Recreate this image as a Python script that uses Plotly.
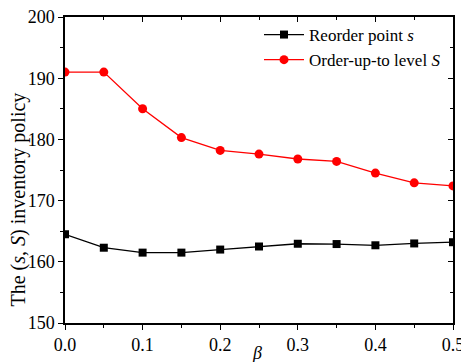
import plotly.graph_objects as go

beta = [0.0, 0.05, 0.1, 0.15, 0.2, 0.25, 0.3, 0.35, 0.4, 0.45, 0.5]
reorder_s = [164.5, 162.3, 161.5, 161.5, 162.0, 162.5, 162.95, 162.9, 162.7, 163.0, 163.2]
order_up_S = [191.0, 191.0, 185.0, 180.3, 178.2, 177.6, 176.8, 176.4, 174.5, 172.9, 172.4]
x_ticks = [0.0, 0.1, 0.2, 0.3, 0.4, 0.5]
x_ticklabels = ["0.0", "0.1", "0.2", "0.3", "0.4", "0.5"]
y_ticks = [150, 160, 170, 180, 190, 200]

FONT = "Liberation Serif, Times New Roman, serif"

fig = go.Figure()
fig.add_trace(go.Scatter(
    x=beta, y=reorder_s, mode="lines+markers", name="Reorder point <i>s</i>",
    line=dict(color="black", width=1.3),
    marker=dict(symbol="square", size=8, color="black"),
))
fig.add_trace(go.Scatter(
    x=beta, y=order_up_S, mode="lines+markers", name="Order-up-to level <i>S</i>",
    line=dict(color="#ff0000", width=1.3),
    marker=dict(symbol="circle", size=9, color="#ff0000"),
))
# dummy trace for mirrored (inside) axes
fig.add_trace(go.Scatter(x=[None], y=[None], xaxis="x2", yaxis="y2",
                         showlegend=False, hoverinfo="skip"))

axis_common = dict(showline=True, linecolor="black", linewidth=1.5,
                   showgrid=False, zeroline=False, tickcolor="black",
                   tickwidth=1.2, automargin=False)

fig.update_layout(
    width=461, height=362,
    margin=dict(l=65, r=8, t=17, b=39),
    paper_bgcolor="white", plot_bgcolor="white",
    font=dict(family=FONT, size=18, color="black"),
    showlegend=True,
    legend=dict(x=0.5, y=1.0, xanchor="left", yanchor="top",
                bgcolor="rgba(0,0,0,0)", font=dict(family=FONT, size=17),
                tracegroupgap=0, itemwidth=40),
    xaxis=dict(range=[0, 0.5], tickvals=x_ticks, ticktext=x_ticklabels,
               ticks="outside", ticklen=5, ticklabeloverflow="allow",
               minor=dict(ticks="outside", ticklen=3, dtick=0.05, tickcolor="black"),
               **axis_common),
    yaxis=dict(range=[150, 200], tickvals=y_ticks, ticks="outside", ticklen=5,
               ticklabeloverflow="allow",
               minor=dict(ticks="outside", ticklen=3, dtick=5, tickcolor="black"),
               **axis_common),
    xaxis2=dict(range=[0, 0.5], overlaying="x", side="top", anchor="y",
                tickvals=x_ticks, showticklabels=False, ticks="inside", ticklen=5,
                minor=dict(ticks="inside", ticklen=3, dtick=0.05, tickcolor="black"),
                **axis_common),
    yaxis2=dict(range=[150, 200], overlaying="y", side="right", anchor="x",
                tickvals=y_ticks, showticklabels=False, ticks="inside", ticklen=5,
                minor=dict(ticks="inside", ticklen=3, dtick=5, tickcolor="black"),
                **axis_common),
    annotations=[
        dict(text="The (<i>s</i>, <i>S</i>) inventory policy", textangle=-90,
             xref="paper", yref="paper", x=-0.12, y=0.405,
             xanchor="center", yanchor="middle", showarrow=False,
             font=dict(family=FONT, size=20)),
        dict(text="<i>β</i>", xref="paper", yref="paper", x=0.495, y=-0.098,
             xanchor="center", yanchor="middle", showarrow=False,
             font=dict(family=FONT, size=18)),
    ],
)

fig.write_html("out.html", config={"displayModeBar": False},
               post_script="document.body.style.margin='0';document.body.style.padding='0';")
